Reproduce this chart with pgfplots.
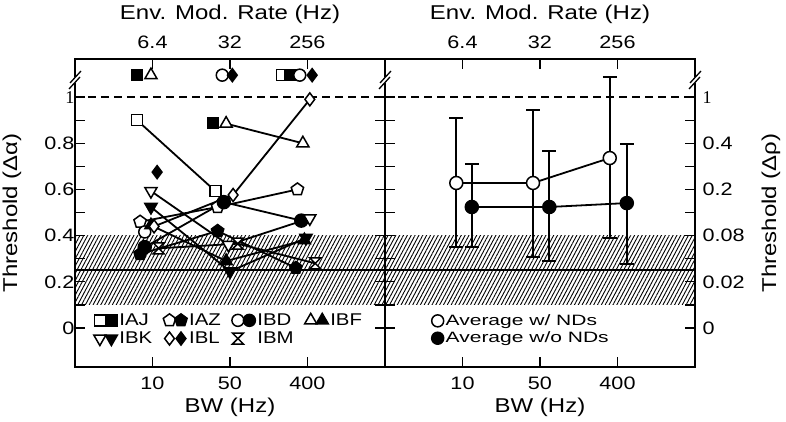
\documentclass[border=0pt]{standalone}
\usepackage{fontspec}
\setmainfont[FakeStretch=1.2]{Liberation Sans}
\newfontfamily\serifone{Liberation Serif}
\newfontfamily\legfont[FakeStretch=1.4]{Liberation Sans}
\usepackage{pgfplots}
\pgfplotsset{compat=1.18}
\usetikzlibrary{patterns.meta}

% hourglass mark for IBM
\pgfdeclareplotmark{hourglass}{%
  \pgfpathmoveto{\pgfqpoint{-\pgfplotmarksize}{\pgfplotmarksize}}%
  \pgfpathlineto{\pgfqpoint{\pgfplotmarksize}{\pgfplotmarksize}}%
  \pgfpathlineto{\pgfqpoint{-\pgfplotmarksize}{-\pgfplotmarksize}}%
  \pgfpathlineto{\pgfqpoint{\pgfplotmarksize}{-\pgfplotmarksize}}%
  \pgfpathclose
  \pgfusepathqfillstroke}

\newcommand{\labfont}{\fontsize{20bp}{24bp}\selectfont}
\newcommand{\tickfont}{\fontsize{18bp}{20bp}\selectfont}

\pgfplotsset{
  panel/.style={
    scale only axis, width=310bp, height=308bp,
    xmin=0, xmax=4, ymin=-0.169, ymax=1.165,
    xtick={1,2,3}, xticklabels={10,50,400}, xtick pos=both, xticklabel pos=lower,
    ytick={0,0.2,0.4,0.6,0.8,1}, minor ytick={0.1,0.3,0.5,0.7,0.9},
    ytick pos=both,
    tick align=inside, major tick length=10bp, minor tick length=10bp,
    tick style={black, line width=1.3bp},
    axis line style={line width=1.8bp},
    tick label style={font=\tickfont},
    xticklabel style={yshift=-6bp},
    every axis x label/.style={at={(axis description cs:0.5,-0.13)}, anchor=center, font=\labfont},
    clip=false,
    /pgf/number format/assume math mode=true,
  },
  toppanel/.style={
    scale only axis, width=310bp, height=308bp,
    xmin=0, xmax=4, ymin=-0.169, ymax=1.165,
    axis x line*=top, axis y line=none,
    xtick={1,2,3}, xticklabels={6.4,32,256},
    major tick length=0bp,
    axis line style={line width=1.8bp},
    tick label style={font=\tickfont},
    xticklabel style={yshift=7bp},
    xlabel={Env. Mod. Rate (Hz)},
    every axis x label/.style={at={(axis description cs:0.5,1.146)}, anchor=center, font=\labfont},
  },
  o/.style={black, line width=1.8bp, mark size=#1, forget plot,
    mark options={solid, line width=1.5bp, fill=white}},
  f/.style={black, line width=1.8bp, mark size=#1, forget plot,
    mark options={solid, line width=1.5bp, fill=black}},
  down/.style={every mark/.append style={rotate=180}},
  hatch/.style={draw=none, forget plot,
    pattern={Lines[angle=62, distance=3.4bp, line width=0.9bp]}},
}

\newcommand{\pairimage}[3]{% mark, size, extra mark options
  \addlegendimage{legend image code/.code={%
    \draw[black, line width=1.5bp, mark=#1, mark size=#2,
      mark options={solid, fill=white, #3}] plot coordinates {(5.5bp,0bp)};
    \draw[black, line width=1.5bp, mark=#1, mark size=#2,
      mark options={solid, fill=black, #3}] plot coordinates {(17bp,0bp)};
  }}}

\begin{document}
\begin{tikzpicture}
\useasboundingbox (-75bp,-55bp) rectangle (711bp,367bp);

% ---------------- left panel: individual listeners
\begin{axis}[panel, at={(0bp,0bp)}, anchor=south west,
  yticklabels={0,0.2,0.4,0.6,0.8,{\serifone 1}},
  yticklabel pos=left, yticklabel style={xshift=3bp},
  ylabel={Threshold (Δα)}, xlabel={BW (Hz)},
  every axis y label/.style={at={(axis description cs:-0.203,0.5)}, anchor=center, rotate=90, font=\labfont},
  legend style={at={(axis description cs:0.06,0.18)}, anchor=north west,
    draw=none, fill=none, inner sep=0pt, row sep=1bp,
    nodes={inner sep=2bp},
    font=\fontsize{17bp}{19bp}\selectfont,
    /tikz/every even column/.append style={column sep=9bp}},
  legend columns=4, legend cell align=left,
]
\addplot[hatch] coordinates {(0,0.1) (4,0.1) (4,0.4) (0,0.4)} -- cycle;
\addplot[black, line width=2bp, forget plot] coordinates {(0,0.25) (4,0.25)};
\addplot[black, line width=2bp, dash pattern=on 8bp off 5bp, forget plot] coordinates {(0,1) (4,1)};

% IAJ
\addplot[o=5.5bp, mark=square*] coordinates {(0.80,0.90) (1.81,0.593)};
\addplot[o=5.5bp, mark=square*, only marks] coordinates {(2.67,1.095)};
\addplot[f=5.5bp, mark=square*, only marks] coordinates {(0.80,1.095) (1.78,0.888) (2.78,1.095)};
% IAZ
\addplot[o=6.5bp, mark=pentagon*] coordinates {(0.84,0.46) (1.84,0.524) (2.87,0.60)};
\addplot[f=6.5bp, mark=pentagon*] coordinates {(0.84,0.32) (1.84,0.42) (2.85,0.26)};
% IBD
\addplot[o=6bp, mark=*, only marks] coordinates {(0.90,0.416) (1.90,1.095) (2.90,1.095)};
\addplot[f=6.5bp, mark=*] coordinates {(0.90,0.35) (1.92,0.545) (2.92,0.465)};
% IBF
\addplot[o=7bp, mark=triangle*, only marks] coordinates {(0.98,1.095)};
\addplot[o=7bp, mark=triangle*] coordinates {(1.95,0.885) (2.94,0.80)};
\addplot[f=7bp, mark=triangle*] coordinates {(0.98,0.445) (1.95,0.29) (2.96,0.38)};
% IBK
\addplot[o=7bp, down, mark=triangle*] coordinates {(0.98,0.593) (1.98,0.36) (3.03,0.475)};
\addplot[f=7bp, down, mark=triangle*] coordinates {(0.98,0.524) (2.00,0.245) (2.98,0.39)};
% IBL
\addplot[o=6.5bp, mark=diamond*] coordinates {(1.02,0.44) (2.04,0.576) (3.03,0.99)};
\addplot[f=6.5bp, mark=diamond*, only marks] coordinates {(1.06,0.675) (2.03,1.095) (3.06,1.095)};
% IBM
\addplot[o=5.5bp, mark=hourglass] coordinates {(1.08,0.345) (2.10,0.365) (3.10,0.28)};

\pairimage{square*}{5.5bp}{}\addlegendentry{IAJ}
\pairimage{pentagon*}{6.5bp}{}\addlegendentry{IAZ}
\pairimage{*}{6bp}{}\addlegendentry{IBD}
\pairimage{triangle*}{7bp}{}\addlegendentry{IBF}
\pairimage{triangle*}{7bp}{rotate=180}\addlegendentry{IBK}
\pairimage{diamond*}{6.5bp}{}\addlegendentry{IBL}
\addlegendimage{legend image code/.code={%
  \draw[black, line width=1.5bp, mark=hourglass, mark size=5.5bp,
    mark options={solid, fill=white}] plot coordinates {(5.5bp,0bp)};}}
\addlegendentry{IBM}
\end{axis}
\begin{axis}[toppanel, at={(0bp,0bp)}, anchor=south west]
\end{axis}

% ---------------- right panel: averages
\begin{axis}[panel, at={(310bp,0bp)}, anchor=south west,
  yticklabels={0,0.02,0.08,0.2,0.4,{\serifone 1}},
  yticklabel pos=right, yticklabel style={xshift=4bp},
  ylabel={Threshold (Δρ)}, xlabel={BW (Hz)},
  every axis y label/.style={at={(axis description cs:1.245,0.5)}, anchor=center, rotate=90, font=\labfont},
  legend style={at={(axis description cs:0.15,0.177)}, anchor=north west,
    draw=none, fill=none, inner sep=0pt, row sep=1bp,
    nodes={inner sep=2bp},
    /tikz/every even column/.append style={xshift=6bp},
    font=\legfont\fontsize{15bp}{17bp}\selectfont},
  legend cell align=left,
]
\addplot[hatch] coordinates {(0,0.1) (4,0.1) (4,0.4) (0,0.4)} -- cycle;
\addplot[black, line width=2bp, forget plot] coordinates {(0,0.25) (4,0.25)};
\addplot[black, line width=2bp, dash pattern=on 8bp off 5bp, forget plot] coordinates {(0,1) (4,1)};

\addplot[o=6.5bp, mark=*, error bars/.cd, y dir=both, y explicit,
  error bar style={line width=1.8bp, solid},
  error mark options={rotate=90, mark size=7bp, line width=1.8bp}]
  coordinates {(0.92,0.628) += (0,0.281) -= (0,0.278)
               (1.91,0.628) += (0,0.316) -= (0,0.321)
               (2.90,0.736) += (0,0.351) -= (0,0.346)};
\addplot[f=6.5bp, mark=*, error bars/.cd, y dir=both, y explicit,
  error bar style={line width=1.8bp, solid},
  error mark options={rotate=90, mark size=7bp, line width=1.8bp}]
  coordinates {(1.12,0.524) += (0,0.186) -= (0,0.174)
               (2.12,0.524) += (0,0.242) -= (0,0.234)
               (3.12,0.541) += (0,0.256) -= (0,0.264)};

\addlegendimage{only marks, mark=*, mark size=6bp, mark options={line width=1.5bp, fill=white}}
\addlegendentry{Average w/ NDs}
\addlegendimage{only marks, mark=*, mark size=6bp, mark options={line width=1.5bp, fill=black}}
\addlegendentry{Average w/o NDs}
\end{axis}
\begin{axis}[toppanel, at={(310bp,0bp)}, anchor=south west]
\end{axis}

% axis breaks above y = 1
\foreach \xx in {0,310,620} {
  \begin{scope}[shift={(\xx bp,287bp)}]
    \fill[white] (-3bp,-3bp) rectangle (3bp,3bp);
    \draw[black, line width=1.3bp] (-6bp,-9bp) -- (5bp,3bp);
    \draw[black, line width=1.3bp] (-5bp,-3bp) -- (6bp,9bp);
  \end{scope}
}
\end{tikzpicture}
\end{document}
